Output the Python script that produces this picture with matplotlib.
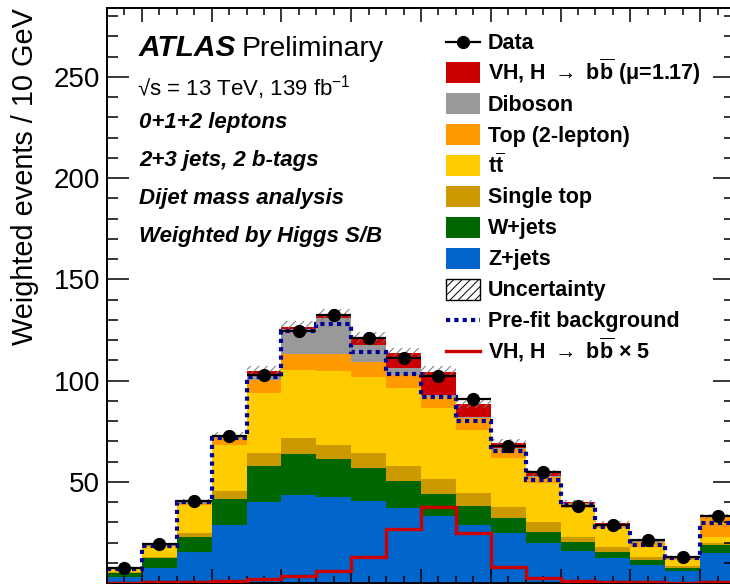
import numpy as np
import matplotlib
matplotlib.use('Agg')
import matplotlib.pyplot as plt
from matplotlib.patches import Rectangle
from matplotlib.lines import Line2D
from matplotlib.ticker import MultipleLocator, FixedLocator

plt.rcParams['font.family'] = ['Liberation Sans', 'DejaVu Sans']
plt.rcParams['mathtext.fontset'] = 'custom'
plt.rcParams['mathtext.rm'] = 'Liberation Sans'
plt.rcParams['mathtext.bf'] = 'Liberation Sans:bold'
plt.rcParams['mathtext.it'] = 'Liberation Sans:italic'
plt.rcParams['hatch.linewidth'] = 0.7

# m_bb bins, 10 GeV wide
edges = np.arange(30, 211, 10)

z_jets = [3.0, 7.5, 15.5, 28.8, 40.0, 43.6, 42.7, 40.6, 37.0, 33.2, 28.8, 24.7, 20.0, 16.1, 12.3, 9.0, 6.2, 15.1]
w_jets = [2.0, 5.0, 7.5, 12.8, 18.0, 20.2, 18.5, 16.3, 13.5, 10.7, 9.3, 7.4, 5.5, 4.1, 3.3, 2.5, 1.5, 3.8]
single_top = [0.3, 0.5, 2.0, 4.0, 6.3, 7.9, 7.1, 7.2, 7.5, 7.6, 6.6, 5.4, 4.9, 2.8, 2.1, 1.6, 0.8, 1.1]
ttbar = [1.5, 5.0, 13.6, 22.8, 29.7, 33.6, 36.5, 37.9, 38.2, 34.9, 31.0, 24.2, 19.3, 14.0, 9.4, 4.6, 3.0, 3.0]
top_2lep = [0.4, 0.6, 1.2, 3.5, 6.4, 7.9, 8.2, 7.4, 6.6, 5.7, 5.7, 4.6, 2.9, 2.5, 2.2, 2.8, 1.1, 9.6]
diboson = [0.1, 0.3, 0.3, 0.5, 3.0, 12.2, 17.8, 8.3, 3.3, 0.9, 0.5, 0.3, 0.2, 0.1, 0.1, 0.1, 0.1, 0.2]
vh_signal = [0.1, 0.2, 0.3, 0.5, 1.2, 1.3, 1.7, 3.6, 7.4, 11.5, 6.6, 2.5, 1.5, 0.4, 0.2, 0.1, 0.1, 0.2]
uncertainty = [0.6, 0.9, 1.4, 2.0, 2.5, 2.8, 3.0, 2.8, 2.6, 2.5, 2.2, 1.9, 1.6, 1.3, 1.1, 0.9, 0.7, 1.3]

data = [7.6, 19.4, 40.6, 72.7, 102.8, 124.5, 132.5, 121.0, 111.0, 102.3, 90.8, 67.8, 54.8, 38.3, 28.8, 21.4, 13.1, 33.2]
data_err = [1.0, 1.5, 2.0, 2.2, 2.4, 2.5, 2.5, 2.4, 2.3, 2.3, 2.2, 2.0, 1.8, 1.6, 1.4, 1.2, 1.0, 1.6]

prefit_bkg = [6.9, 18.4, 40.0, 71.5, 101.8, 124.5, 127.9, 114.3, 103.3, 92.1, 80.1, 65.5, 51.0, 38.6, 27.9, 18.9, 12.3, 29.9]
vh_x5 = [0.3, 0.4, 0.6, 1.0, 2.0, 3.4, 6.2, 13.1, 26.8, 37.8, 24.7, 8.2, 2.5, 0.9, 0.6, 0.4, 0.3, 0.5]

bb = r'$\mathbf{b\overline{b}}$'
stack = [
    (z_jets, '#0066CC', 'Z+jets'),
    (w_jets, '#006600', 'W+jets'),
    (single_top, '#CC9900', 'Single top'),
    (ttbar, '#FFCC00', r'$\mathbf{t\overline{t}}$'),
    (top_2lep, '#FF9900', 'Top (2-lepton)'),
    (diboson, '#999999', 'Diboson'),
    (vh_signal, '#CC0000', r'VH, H $\rightarrow$ ' + bb + ' (μ=1.17)'),
]

W, H = 730, 584
fig = plt.figure(figsize=(W / 100, H / 100), dpi=100)


def fx(x):
    return x / W


def fy(y):
    return 1 - y / H


ax = fig.add_axes([fx(107), fy(583.2), 628 / W, (583.2 - 8) / H])

widths = np.diff(edges)
bottom = np.zeros(len(data))
for vals, col, lab in stack:
    ax.bar(edges[:-1], vals, width=widths, bottom=bottom, align='edge',
           color=col, linewidth=0, zorder=1)
    bottom = bottom + np.array(vals)
total = bottom

unc = np.array(uncertainty)
ax.stairs(total + unc, edges, baseline=total - unc, fill=True, facecolor='none',
          edgecolor='#777777', hatch='////', linewidth=0, zorder=1.2)

ax.stairs(prefit_bkg, edges, baseline=None, color='#000099', linewidth=3.0,
          linestyle=(0, (1, 1)), zorder=3)
ax.stairs(vh_x5, edges, baseline=None, color='#CC0000', linewidth=2.4, zorder=3)

centers = edges[:-1] + widths / 2
ax.errorbar(centers, data, xerr=widths / 2, yerr=data_err, fmt='o', color='black',
            ms=8.5, elinewidth=1.6, capsize=0, zorder=5)

ax.set_xlim(edges[0], edges[-1])
ax.set_ylim(0, 284)
ax.xaxis.set_major_locator(MultipleLocator(20))
ax.xaxis.set_minor_locator(MultipleLocator(5))
ax.yaxis.set_major_locator(FixedLocator([50, 100, 150, 200, 250]))
ax.yaxis.set_minor_locator(MultipleLocator(10))
ax.tick_params(which='both', direction='in', top=True, right=True, width=1.1, color='black')
ax.tick_params(axis='y', which='major', length=15.5, labelsize=20, pad=5)
ax.tick_params(axis='y', which='minor', length=8)
ax.tick_params(axis='x', which='major', length=10, labelbottom=False)
ax.tick_params(axis='x', which='minor', length=5)
for sp in ax.spines.values():
    sp.set_linewidth(1.4)

fig.text(fx(11), fy(8), 'Weighted events / 10 GeV', rotation=90, ha='left', va='top',
         fontsize=20.8)

# labels
fig.text(fx(139), fy(56), 'ATLAS', fontsize=21.5, weight='bold', style='italic', va='baseline')
fig.text(fx(242), fy(56), 'Preliminary', fontsize=20.5, va='baseline')
fig.text(fx(137), fy(95), r'√s = 13 TeV, 139 fb$^{\mathregular{-1}}$', fontsize=16, va='baseline')
info = ['0+1+2 leptons', '2+3 jets, 2 b-tags', 'Dijet mass analysis', 'Weighted by Higgs S/B']
for i, line in enumerate(info):
    fig.text(fx(139), fy(128 + 38 * i), line, fontsize=16, weight='bold', style='italic',
             va='baseline')

# legend, drawn row by row
rows = ['data'] + [s for s in reversed(stack)] + ['unc', 'prefit', 'sig5']
x0, x1, xt = 446, 480, 488
for i, entry in enumerate(rows):
    yc = 42 + 30.9 * i
    if entry == 'data':
        fig.add_artist(Line2D([fx(x0), fx(x1)], [fy(yc), fy(yc)], color='black', lw=1.6))
        fig.add_artist(Line2D([fx((x0 + x1) / 2)], [fy(yc)], marker='o', color='black', ms=8.5))
        label = 'Data'
    elif entry == 'unc':
        fig.add_artist(Rectangle((fx(x0), fy(yc + 10.5)), (x1 - x0) / W, 21 / H,
                                 facecolor='white', edgecolor='black', hatch='////',
                                 lw=1.0, transform=fig.transFigure))
        label = 'Uncertainty'
    elif entry == 'prefit':
        fig.add_artist(Line2D([fx(x0), fx(x1)], [fy(yc), fy(yc)], color='#000099', lw=3.0,
                              linestyle=(0, (1, 1))))
        label = 'Pre-fit background'
    elif entry == 'sig5':
        fig.add_artist(Line2D([fx(x0), fx(x1)], [fy(yc), fy(yc)], color='#CC0000', lw=2.4))
        label = r'VH, H $\rightarrow$ ' + bb + ' × 5'
    else:
        vals, col, label = entry
        fig.add_artist(Rectangle((fx(x0), fy(yc + 10.5)), (x1 - x0) / W, 21 / H,
                                 facecolor=col, edgecolor='none', transform=fig.transFigure))
    fig.text(fx(xt), fy(yc + 7), label, fontsize=15.5, weight='bold', va='baseline')

fig.savefig('out.png', dpi=100)
